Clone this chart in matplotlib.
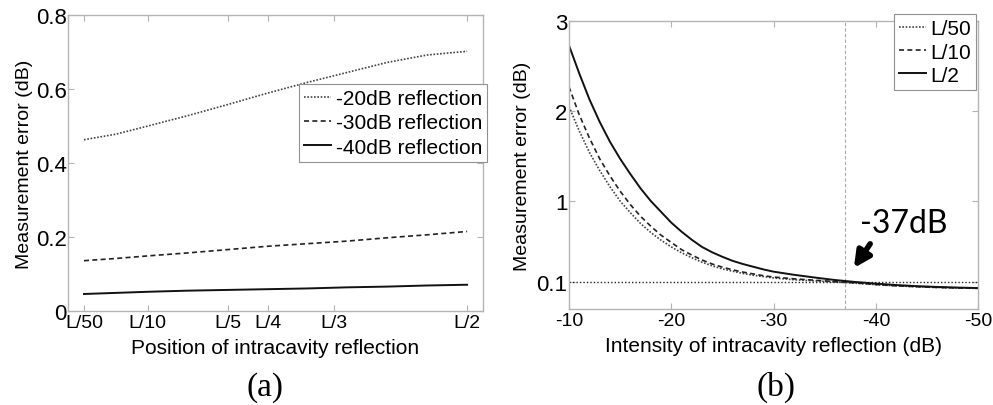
import numpy as np
import matplotlib.pyplot as plt

plt.rcParams['font.family'] = ['Liberation Sans', 'DejaVu Sans']
plt.rcParams['axes.unicode_minus'] = False

# panel (a): error vs position of the reflection
pos = [0.02, 0.06, 0.10, 0.15, 0.20, 0.25, 0.30, 0.35, 0.40, 0.45, 0.50]
err_20 = [0.463, 0.478, 0.500, 0.528, 0.558, 0.589, 0.618, 0.645, 0.672, 0.692, 0.702]
err_30 = [0.136, 0.142, 0.149, 0.157, 0.166, 0.175, 0.182, 0.189, 0.198, 0.206, 0.215]
err_40 = [0.046, 0.049, 0.052, 0.055, 0.057, 0.059, 0.061, 0.064, 0.066, 0.069, 0.071]
pos_ticks = [0.02, 0.10, 0.20, 0.25, 1 / 3, 0.50]
pos_labels = ["L/50", "L/10", "L/5", "L/4", "L/3", "L/2"]

# panel (b): error vs intensity of the reflection
inten = [-10, -11, -12, -13, -14, -15, -16, -17, -18, -19, -20, -21, -22, -23,
         -24, -25, -26, -27, -28, -29, -30, -32, -34, -36, -38, -40, -42, -44,
         -46, -48, -50]
err_l50 = [2.05, 1.78, 1.54, 1.34, 1.16, 1.00, 0.87, 0.75, 0.65, 0.565, 0.49,
           0.425, 0.37, 0.32, 0.28, 0.245, 0.22, 0.195, 0.175, 0.16, 0.145,
           0.125, 0.112, 0.100, 0.087, 0.070, 0.057, 0.047, 0.039, 0.033, 0.029]
err_l10 = [2.27, 1.96, 1.70, 1.47, 1.28, 1.11, 0.96, 0.83, 0.72, 0.62, 0.54,
           0.46, 0.40, 0.345, 0.30, 0.265, 0.235, 0.21, 0.19, 0.17, 0.155,
           0.135, 0.120, 0.105, 0.090, 0.072, 0.058, 0.048, 0.040, 0.034, 0.030]
err_l2 = [2.73, 2.42, 2.13, 1.88, 1.66, 1.47, 1.30, 1.14, 1.00, 0.88, 0.76,
          0.66, 0.57, 0.49, 0.43, 0.38, 0.335, 0.30, 0.27, 0.24, 0.215,
          0.18, 0.15, 0.122, 0.100, 0.082, 0.066, 0.054, 0.045, 0.038, 0.033]
threshold = 0.1
cross_db = -37

spine_col = "#b4b4b4"


def style_axes(ax):
    """MATLAB-like box with inward grey ticks."""
    for sp in ax.spines.values():
        sp.set_color(spine_col)
        sp.set_linewidth(1.0)
    ax.tick_params(direction="in", top=True, right=True, color=spine_col,
                   length=4, labelcolor="black")
    ax.tick_params(axis="x", labelsize=14, pad=2)
    ax.tick_params(axis="y", labelsize=16, pad=1)


fig = plt.figure(figsize=(9.93, 4.06), dpi=100)

# ---- (a)
ax1 = fig.add_axes([0.0685, 0.2315, 0.418, 0.729])
ax1.plot(pos, err_20, color="#444444", ls=(0, (1, 1)), lw=1.2, label="-20dB reflection")
ax1.plot(pos, err_30, color="#222222", ls=(0, (3, 2)), lw=1.2, label="-30dB reflection")
ax1.plot(pos, err_40, color="#111111", ls="-", lw=1.4, label="-40dB reflection")
ax1.set_xlim(0, 0.52)
ax1.set_ylim(0, 0.8)
ax1.set_xticks(pos_ticks, pos_labels)
ax1.set_yticks([0, 0.2, 0.4, 0.6, 0.8], ["0", "0.2", "0.4", "0.6", "0.8"])
style_axes(ax1)
ax1.set_xlabel("Position of intracavity reflection", fontsize=15, labelpad=5)
ax1.set_ylabel("Measurement error (dB)", fontsize=14, labelpad=2)
leg1 = ax1.legend(loc="upper right", bbox_to_anchor=(1.01, 0.767), borderaxespad=0,
                  fontsize=15, fancybox=False, framealpha=1, edgecolor="#909090",
                  handlelength=1.3, handletextpad=0.2, borderpad=0.25, labelspacing=0.25)
leg1.get_frame().set_linewidth(0.8)

# ---- (b)
ax2 = fig.add_axes([0.573, 0.2365, 0.412, 0.709])
ax2.axhline(threshold, color="#222222", ls=(0, (1, 1.5)), lw=1.0)
ax2.axvline(cross_db, color="#aaaaaa", ls=(0, (3, 2)), lw=0.8)
ax2.plot(inten, err_l50, color="#444444", ls=(0, (1, 1)), lw=1.2, label="L/50")
ax2.plot(inten, err_l10, color="#222222", ls=(0, (3, 2)), lw=1.2, label="L/10")
ax2.plot(inten, err_l2, color="#111111", ls="-", lw=1.4, label="L/2")
ax2.set_xlim(-10, -50)
ax2.set_ylim(-0.2, 3)
ax2.set_xticks([-10, -20, -30, -40, -50])
ax2.set_yticks([0.1, 1, 2, 3], ["0.1", "1", "2", "3"])
style_axes(ax2)
ax2.set_xlabel("Intensity of intracavity reflection (dB)", fontsize=15, labelpad=5)
ax2.set_ylabel("Measurement error (dB)", fontsize=14, labelpad=4)
leg2 = ax2.legend(loc="upper right", bbox_to_anchor=(0.995, 1.024), borderaxespad=0,
                  fontsize=15, fancybox=False, framealpha=1, edgecolor="#909090",
                  handlelength=1.3, handletextpad=0.2, borderpad=0.25, labelspacing=0.2)
leg2.get_frame().set_linewidth(0.8)

ax2.annotate("", xy=(-37.7, 0.23), xytext=(-39.6, 0.55),
             arrowprops=dict(arrowstyle="-|>", lw=4, color="black", mutation_scale=24))
ax2.text(-42.7, 0.76, "-37dB", fontsize=23, family=["Lato", "DejaVu Sans"],
         ha="center", va="center")

# panel captions
fig.text(0.267, 0.045, "(a)", fontsize=24, family=["Liberation Serif", "DejaVu Serif"],
         ha="center", va="center")
fig.text(0.781, 0.045, "(b)", fontsize=24, family=["Liberation Serif", "DejaVu Serif"],
         ha="center", va="center")

fig.savefig("out.png", dpi=100)
